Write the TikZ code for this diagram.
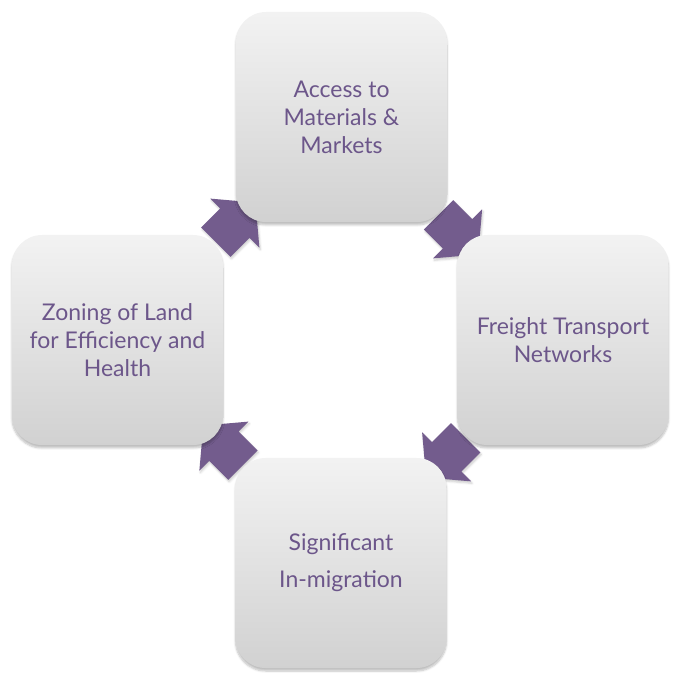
\documentclass[tikz,border=0pt]{standalone}
\usepackage{fontspec}
\setmainfont{Lato}
\usetikzlibrary{shapes.arrows,shadows.blur,calc,backgrounds}

\definecolor{cyclepurple}{RGB}{115,92,141}
\definecolor{labelpurple}{RGB}{108,86,138}

\tikzset{
  cyclebox/.style = {rectangle, rounded corners = 30pt, minimum width = 211pt,
    minimum height = 210pt, top color = gray!10, bottom color = gray!36,
    draw = none, text = labelpurple, align = center,
    font = \fontsize{23pt}{28pt}\selectfont,
    blur shadow = {shadow xshift = 0pt, shadow yshift = -3pt, shadow opacity = 25,
      shadow blur steps = 6}},
  cyclearrow/.style = {single arrow, fill = cyclepurple, draw = none,
    minimum height = 56pt, inner xsep = 0pt, inner ysep = 20.5pt,
    single arrow head extend = 14pt, single arrow tip angle = 100,
    blur shadow = {shadow xshift = 1pt, shadow yshift = -2pt, shadow opacity = 20,
      shadow blur steps = 4}}
}

\begin{document}
\begin{tikzpicture}[x = 1pt, y = 1pt]
\useasboundingbox (0,0) rectangle (676,674);

\node[cyclebox] (v1) at (341.5,557) {Access to\\Materials \&\\Markets};
\node[cyclebox] (v2) at (563,334) {Freight Transport\\Networks};
\node[cyclebox] (v3) at (341,111) {Significant\\[9pt]In-migration};
\node[cyclebox] (v4) at (117.5,334) {Zoning of Land\\for Efficiency and\\Health};

\begin{scope}[on background layer]
\node[cyclearrow, rotate = 45] (a1) at ($(v4.north east)!0.5!(v1.south west)$) {};
\node[cyclearrow, rotate = -45] (a2) at ($(v1.south east)!0.5!(v2.north west)$) {};
\node[cyclearrow, rotate = -135] (a3) at ($(v2.south west)!0.5!(v3.north east)$) {};
\node[cyclearrow, rotate = 135] (a4) at ($(v3.north west)!0.5!(v4.south east)$) {};
\end{scope}
\end{tikzpicture}
\end{document}
